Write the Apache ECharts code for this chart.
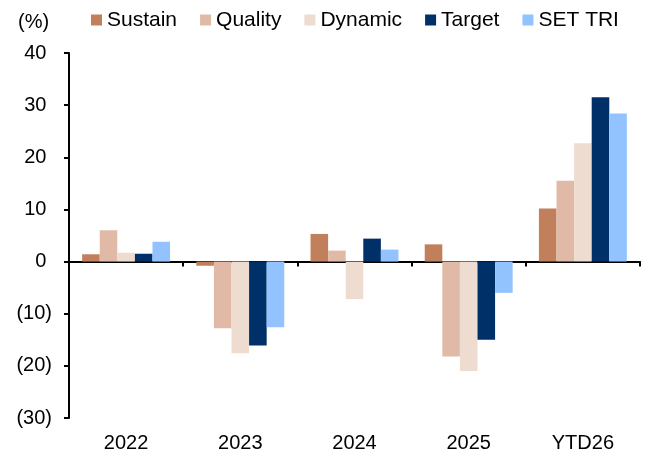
<!DOCTYPE html>
<html>
<head>
<meta charset="utf-8">
<script src="https://cdn.jsdelivr.net/npm/echarts@6/dist/echarts.min.js"></script>
<style>
  html, body { margin: 0; padding: 0; background: #fff; }
  #main { width: 650px; height: 457px; }
</style>
</head>
<body>
<div id="main"></div>
<script>
// categories and series values (%)
var categories = ['2022', '2023', '2024', '2025', 'YTD26'];
var sustain = [1.4, -0.8, 5.3, 3.3, 10.2];
var quality = [6.0, -12.8, 2.1, -18.2, 15.5];
var dynamic = [1.7, -17.6, -7.2, -21.0, 22.7];
var target = [1.5, -16.1, 4.4, -15.0, 31.5];
var setTri = [3.8, -12.6, 2.3, -6.0, 28.4];

var seriesNames = ['Sustain', 'Quality', 'Dynamic', 'Target', 'SET TRI'];
var seriesColors = ['#C17F5B', '#E0BAA7', '#EFDCD1', '#003068', '#93C3FF'];
var seriesData = [sustain, quality, dynamic, target, setTri];

var font = 'Liberation Sans, Arial, sans-serif';

var chart = echarts.init(document.getElementById('main'));

var option = {
  animation: false,
  color: seriesColors,
  title: {
    text: '(%)',
    left: 18,
    top: 11,
    padding: 0,
    textStyle: { color: '#000', fontSize: 20, fontWeight: 'normal', fontFamily: font, lineHeight: 22 }
  },
  legend: {
    left: 91,
    top: 9,
    padding: 0,
    icon: 'rect',
    itemWidth: 11,
    itemHeight: 11,
    itemGap: 23,
    textStyle: { color: '#000', fontSize: 21, fontFamily: font, lineHeight: 22 },
    data: seriesNames
  },
  grid: {
    left: 69,
    right: 10,
    top: 53,
    bottom: 39,
    containLabel: false
  },
  xAxis: [
    {
      // labels at the bottom
      type: 'category',
      data: categories,
      position: 'bottom',
      axisLine: { show: false, onZero: false },
      axisTick: { show: false },
      axisLabel: { color: '#000', fontSize: 20, fontFamily: font, margin: 15 }
    },
    {
      // line drawn through zero with boundary ticks
      type: 'category',
      data: categories,
      position: 'bottom',
      axisLine: { show: true, onZero: true, lineStyle: { color: '#000', width: 2 } },
      axisTick: { show: true, length: 5, lineStyle: { color: '#000', width: 2 } },
      axisLabel: { show: false }
    }
  ],
  yAxis: {
    type: 'value',
    min: -30,
    max: 40,
    interval: 10,
    axisLine: { show: true, lineStyle: { color: '#000', width: 2 } },
    axisTick: { show: true, length: 5, lineStyle: { color: '#000', width: 2 } },
    splitLine: { show: false },
    axisLabel: {
      color: '#000',
      fontSize: 20,
      fontFamily: font,
      margin: 17,
      formatter: function (v) {
        return v < 0 ? '(' + (-v) + ')' : v + '\u00a0';
      }
    }
  },
  series: seriesNames.map(function (name, i) {
    return {
      name: name,
      type: 'bar',
      xAxisIndex: 0,
      barGap: '0%',
      barCategoryGap: '23%',
      itemStyle: { color: seriesColors[i] },
      data: seriesData[i]
    };
  })
};

chart.setOption(option);
</script>
</body>
</html>
